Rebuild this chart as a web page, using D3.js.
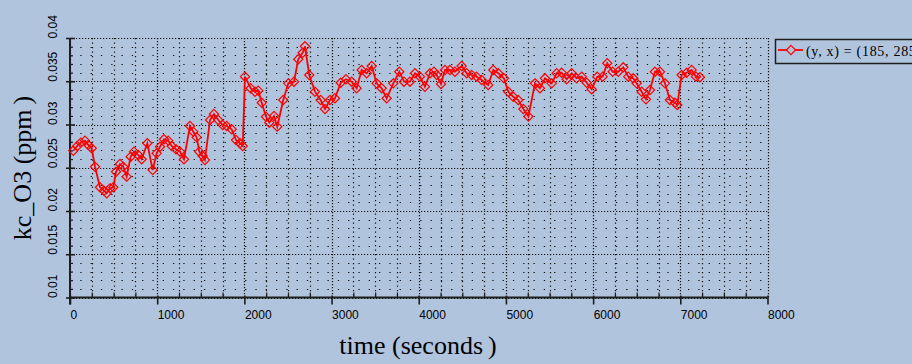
<!DOCTYPE html>
<html>
<head>
<meta charset="utf-8">
<script src="https://cdn.jsdelivr.net/npm/d3@7"></script>
<style>
  html, body { margin: 0; padding: 0; background: #b0c4de; }
  svg { display: block; }
</style>
</head>
<body>
<svg id="chart" width="912" height="364"></svg>
<script>
// Ozone concentration at grid cell (185, 285) over time
const timeSec = [
  38, 84, 123, 172, 210, 249, 287, 344, 390, 421, 459, 497, 528, 573, 611, 650, 696, 734, 783, 822,
  887, 948, 994, 1032, 1078, 1127, 1166, 1216, 1262, 1307, 1376, 1414, 1453, 1483, 1522, 1548, 1606, 1651, 1701, 1751,
  1797, 1854, 1904, 1950, 1981,
  2007, 2072, 2122, 2160, 2199, 2248, 2286, 2340, 2377, 2446, 2504, 2569, 2618, 2669, 2695, 2744, 2810, 2875, 2925, 2982, 3039,
  3105, 3165, 3231, 3288, 3345, 3403, 3460, 3517, 3575, 3632, 3708, 3777, 3831, 3899, 3957, 4014, 4071, 4129, 4175, 4206,
  4255, 4301, 4358, 4415, 4492, 4550, 4607, 4664, 4722, 4797, 4855, 4912, 4977, 5027, 5084, 5141,
  5200, 5258, 5333, 5390, 5448, 5525, 5582, 5639, 5697, 5754, 5811, 5869, 5926, 5983, 6048, 6109, 6162, 6224, 6288, 6346,
  6403, 6460, 6499, 6557, 6606, 6652, 6709, 6767, 6824, 6881, 6939, 6965, 7015, 7073, 7130, 7180, 7225
];
const kcO3 = [
  0.02697, 0.02752, 0.0279, 0.02813, 0.02763, 0.02725, 0.02512, 0.02274, 0.02235, 0.02205, 0.02262, 0.02274, 0.02454, 0.02543, 0.02512, 0.02397, 0.02628, 0.02686, 0.02647, 0.02598,
  0.02783, 0.02474, 0.02667, 0.02743, 0.02829, 0.02813, 0.02752, 0.02713, 0.02686, 0.02598, 0.02983, 0.02917, 0.02852, 0.02686, 0.02636, 0.0259, 0.03052, 0.03121, 0.03052, 0.02994,
  0.02983, 0.02945, 0.02821, 0.02783, 0.02752,
  0.03553, 0.03419, 0.03379, 0.03391, 0.03252, 0.0309, 0.03021, 0.03098, 0.02975, 0.03283, 0.03476, 0.03495, 0.03754, 0.0383, 0.03904, 0.03572, 0.03379, 0.03283, 0.03179, 0.03283, 0.03303,
  0.03483, 0.03523, 0.03495, 0.03419, 0.0363, 0.03592, 0.03676, 0.03476, 0.03419, 0.03303, 0.03476, 0.0361, 0.03495, 0.03495, 0.03592, 0.03553, 0.03437, 0.03592, 0.0361, 0.03572,
  0.03468, 0.0363, 0.0363, 0.0361, 0.03676, 0.03592, 0.03572, 0.03553, 0.03515, 0.03457, 0.0363, 0.03592, 0.03534, 0.03379, 0.03321, 0.03283,
  0.03179, 0.03093, 0.03476, 0.03419, 0.03534, 0.03476, 0.03592, 0.03599, 0.03523, 0.03592, 0.03534, 0.03553, 0.03483, 0.03407, 0.03553, 0.03553, 0.03708, 0.0361, 0.0361, 0.03661,
  0.03553, 0.03534, 0.03476, 0.03379, 0.03291, 0.03399, 0.0361, 0.0361, 0.03476, 0.03283, 0.03252, 0.03225, 0.03572, 0.03599, 0.0363, 0.03553, 0.03546
];
const xTickValues = [0, 1000, 2000, 3000, 4000, 5000, 6000, 7000, 8000];
const xTickLabels = ["0", "1000", "2000", "3000", "4000", "5000", "6000", "7000", "8000"];
const yTickValues = [0.01, 0.015, 0.02, 0.025, 0.03, 0.035, 0.04];
const yTickLabels = ["0.01", "0.015", "0.02", "0.025", "0.03", "0.035", "0.04"];
const seriesName = "(y, x) = (185, 285)";
const xTitle = "time (seconds";
const yTitle = "kc_O3 (ppm";

const points = timeSec.map((t, i) => ({ t, v: kcO3[i] }));

const svg = d3.select("#chart");
const bg = "#b0c4de";
const red = "#ff0000";
const ink = "#1e1e1e";

svg.append("rect").attr("width", 912).attr("height", 364).attr("fill", bg);

const x = d3.scaleLinear().domain([0, 8000]).range([70, 767.5]);
const y = d3.scaleLinear().domain([0.01, 0.04]).range([297.5, 38]);

// minor tick positions (every 250 s, every 0.001 ppm)
const xMinor = d3.range(0, 8001, 250).filter(v => v % 1000 !== 0);
const yMinor = d3.range(10, 41, 1).map(v => v / 1000).filter(v => Math.round(v * 1000) % 5 !== 0);

// grid
const grid = svg.append("g");
grid.selectAll("line.hminor").data(yMinor).join("line")
  .attr("x1", x(0)).attr("x2", x(8000))
  .attr("y1", d => Math.round(y(d)) + 0.5).attr("y2", d => Math.round(y(d)) + 0.5)
  .attr("stroke", "#111").attr("stroke-width", 1.2).attr("stroke-dasharray", "1.3,9");
grid.selectAll("line.vminor").data(xMinor).join("line")
  .attr("x1", d => Math.round(x(d)) + 0.5).attr("x2", d => Math.round(x(d)) + 0.5)
  .attr("y1", y(0.04)).attr("y2", y(0.01))
  .attr("stroke", "#111").attr("stroke-width", 1.2).attr("stroke-dasharray", "1.3,3.2");
grid.selectAll("line.hmajor").data(yTickValues).join("line")
  .attr("x1", x(0)).attr("x2", x(8000))
  .attr("y1", d => Math.round(y(d)) + 0.5).attr("y2", d => Math.round(y(d)) + 0.5)
  .attr("stroke", "#111").attr("stroke-width", 1.2).attr("stroke-dasharray", "1.2,1.8");
grid.selectAll("line.vmajor").data(xTickValues).join("line")
  .attr("x1", d => Math.round(x(d)) + 0.5).attr("x2", d => Math.round(x(d)) + 0.5)
  .attr("y1", y(0.04)).attr("y2", y(0.01))
  .attr("stroke", "#111").attr("stroke-width", 1.2).attr("stroke-dasharray", "1.2,1.8");

// axes
const tickFont = "'Liberation Sans', Arial, sans-serif";

const xAxis = svg.append("g").attr("transform", `translate(0,${y(0.01)})`)
  .call(d3.axisBottom(x).tickValues(xTickValues).tickSize(7)
    .tickFormat((d, i) => xTickLabels[i]));
xAxis.select(".domain").attr("stroke", ink).attr("stroke-width", 2).attr("d", `M${x(0)},0H${x(8000)}`);
xAxis.selectAll(".tick line").attr("stroke", ink).attr("stroke-width", 1.6).attr("y1", -2);
xAxis.selectAll(".tick text")
  .attr("y", 21).attr("dy", 0).attr("x", 0)
  .attr("text-anchor", "start").attr("fill", "#000")
  .style("font-family", tickFont).style("font-size", "12px");

svg.append("g").attr("transform", `translate(0,${y(0.01)})`)
  .call(d3.axisBottom(x).tickValues(xMinor).tickSize(-5).tickFormat(""))
  .call(g => g.select(".domain").remove())
  .selectAll(".tick line").attr("stroke", ink).attr("stroke-width", 1.2);

const yAxis = svg.append("g").attr("transform", `translate(${x(0)},0)`)
  .call(d3.axisLeft(y).tickValues(yTickValues).tickSize(4)
    .tickFormat((d, i) => yTickLabels[i]));
yAxis.select(".domain").attr("stroke", ink).attr("stroke-width", 2).attr("d", `M0,${y(0.04)}V${y(0.01) + 7}`);
yAxis.selectAll(".tick line").attr("stroke", ink).attr("stroke-width", 1.6).attr("x1", 5);
yAxis.selectAll(".tick text")
  .attr("transform", "rotate(-90)")
  .attr("x", 0).attr("y", -13).attr("dy", 0)
  .attr("text-anchor", "start").attr("fill", "#000")
  .style("font-family", tickFont).style("font-size", "12px");

svg.append("g").attr("transform", `translate(${x(0)},0)`)
  .call(d3.axisLeft(y).tickValues(yMinor).tickSize(-3).tickFormat(""))
  .call(g => g.select(".domain").remove())
  .selectAll(".tick line").attr("stroke", ink).attr("stroke-width", 1.2);

// axis titles
const titleFont = "'Liberation Serif', 'Times New Roman', serif";
const xt = svg.append("text")
  .attr("x", 418).attr("y", 354).attr("text-anchor", "middle")
  .attr("fill", "#000").style("font-family", titleFont).style("font-size", "26px");
xt.append("tspan").text(xTitle);
xt.append("tspan").attr("dx", 5).text(")");

const yt = svg.append("text")
  .attr("transform", "translate(31,168) rotate(-90)").attr("text-anchor", "middle")
  .attr("fill", "#000").style("font-family", titleFont).style("font-size", "26px");
yt.append("tspan").text(yTitle);
yt.append("tspan").attr("dx", 5).text(")");

// series
const diamond = r => `M0,${-r}L${r},0L0,${r}L${-r},0Z`;

svg.append("path").datum(points)
  .attr("fill", "none").attr("stroke", red).attr("stroke-width", 1.8)
  .attr("d", d3.line().x(d => x(d.t)).y(d => y(d.v)));

svg.append("g").selectAll("path").data(points).join("path")
  .attr("transform", d => `translate(${x(d.t)},${y(d.v)})`)
  .attr("d", diamond(4.6))
  .attr("fill", "none").attr("stroke", red).attr("stroke-width", 1.2);

// legend
const lg = svg.append("g");
lg.append("rect").attr("x", 775.5).attr("y", 39.5).attr("width", 200).attr("height", 24)
  .attr("fill", bg).attr("stroke", ink).attr("stroke-width", 1.5);
lg.append("line").attr("x1", 778).attr("x2", 803).attr("y1", 50).attr("y2", 50)
  .attr("stroke", red).attr("stroke-width", 1.8);
lg.append("path").attr("transform", "translate(791,50)").attr("d", diamond(4.6))
  .attr("fill", bg).attr("stroke", red).attr("stroke-width", 1.2);
lg.append("text").attr("x", 806).attr("y", 56).text(seriesName)
  .attr("fill", "#000").style("font-family", titleFont).style("font-size", "14px")
  .style("letter-spacing", "0.7px");
</script>
</body>
</html>
